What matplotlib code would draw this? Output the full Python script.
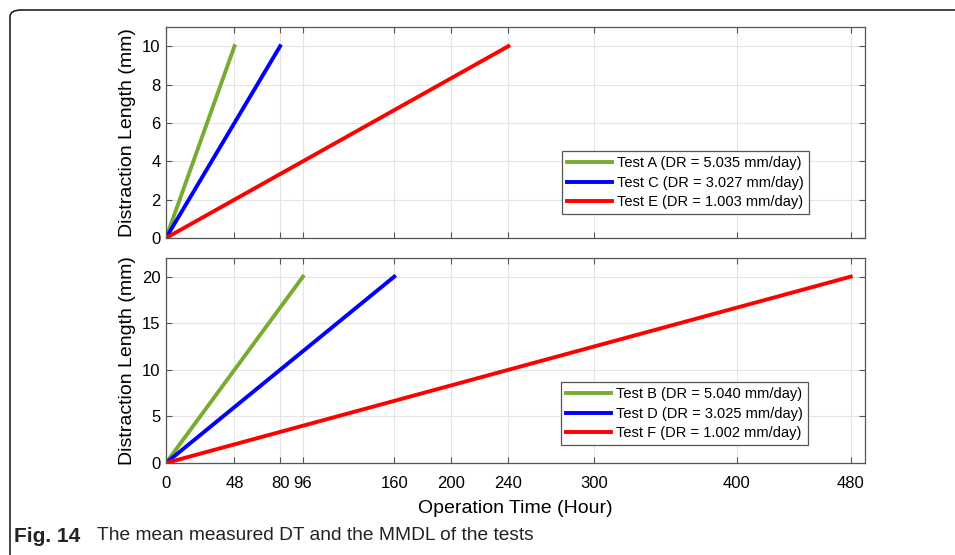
import matplotlib
matplotlib.use('Agg')
import matplotlib.pyplot as plt
from matplotlib.patches import FancyBboxPatch

# 上段・下段のデータ (時間 [h], 伸長量 [mm])
time_a = [0, 48]
time_c = [0, 80]
time_e = [0, 240]
len_top = [0, 10]

time_b = [0, 96]
time_d = [0, 160]
time_f = [0, 480]
len_bottom = [0, 20]

labels_top = ['Test A (DR = 5.035 mm/day)',
              'Test C (DR = 3.027 mm/day)',
              'Test E (DR = 1.003 mm/day)']
labels_bottom = ['Test B (DR = 5.040 mm/day)',
                 'Test D (DR = 3.025 mm/day)',
                 'Test F (DR = 1.002 mm/day)']

x_ticks = [0, 48, 80, 96, 160, 200, 240, 300, 400, 480]
y_ticks_top = [0, 2, 4, 6, 8, 10]
y_ticks_bottom = [0, 5, 10, 15, 20]

colors = ['#77ac30', '#0000ff', '#ff0000']

plt.rcParams['font.family'] = ['Liberation Sans', 'DejaVu Sans']


def style_axes(ax, yticks, ymax):
    ax.set_xlim(0, 490)
    ax.set_ylim(0, ymax)
    ax.set_xticks(x_ticks)
    ax.set_yticks(yticks)
    ax.grid(True, color='#e4e4e4', lw=0.8)
    ax.set_axisbelow(True)
    ax.tick_params(direction='in', top=True, right=True, length=4,
                   color='#555555', labelsize=12)
    ax.tick_params(axis='x', pad=9)
    ax.tick_params(axis='y', pad=4)
    for s in ax.spines.values():
        s.set_color('#555555')
        s.set_linewidth(0.9)
    ax.set_ylabel('Distraction Length (mm)', fontsize=14, labelpad=4)


fig = plt.figure(figsize=(9.55, 5.55), dpi=100)

# 外枠を描画する。(右端と下端は画像の外まで伸ばす)
frame = FancyBboxPatch((10 / 955, -20 / 555), 960 / 955, 565 / 555,
                       boxstyle='round,pad=0,rounding_size=0.012',
                       transform=fig.transFigure, fill=False,
                       ec='#222222', lw=1.2, clip_on=False)
fig.patches.append(frame)

ax1 = fig.add_axes([166 / 955, 1 - 238 / 555, 699 / 955, 211 / 555])
ax2 = fig.add_axes([166 / 955, 1 - 463 / 555, 699 / 955, 205 / 555])

for t, c, lab in zip([time_a, time_c, time_e], colors, labels_top):
    ax1.plot(t, len_top, color=c, lw=2.8, label=lab)
for t, c, lab in zip([time_b, time_d, time_f], colors, labels_bottom):
    ax2.plot(t, len_bottom, color=c, lw=2.8, label=lab)

style_axes(ax1, y_ticks_top, 11)
style_axes(ax2, y_ticks_bottom, 22)
ax1.set_xticklabels([])
ax2.set_xlabel('Operation Time (Hour)', fontsize=14, labelpad=7)

leg_kw = dict(loc='upper left', fontsize=10.5, fancybox=False,
              edgecolor='#555555', framealpha=1, handlelength=3.1,
              handletextpad=0.3, borderpad=0.35, labelspacing=0.38,
              borderaxespad=0)
leg1 = ax1.legend(bbox_to_anchor=(0.5665, 0.412), **leg_kw)
leg2 = ax2.legend(bbox_to_anchor=(0.565, 0.395), **leg_kw)
for leg in (leg1, leg2):
    leg.get_frame().set_linewidth(0.9)

# キャプションを描画する。
fig.text(14 / 955, 1 - 536 / 555, 'Fig. 14', fontsize=15, fontweight='bold',
         va='center', color='#222222')
fig.text(97 / 955, 1 - 536 / 555,
         'The mean measured DT and the MMDL of the tests', fontsize=13.8,
         va='center', color='#222222')

fig.savefig('out.png', dpi=100)
